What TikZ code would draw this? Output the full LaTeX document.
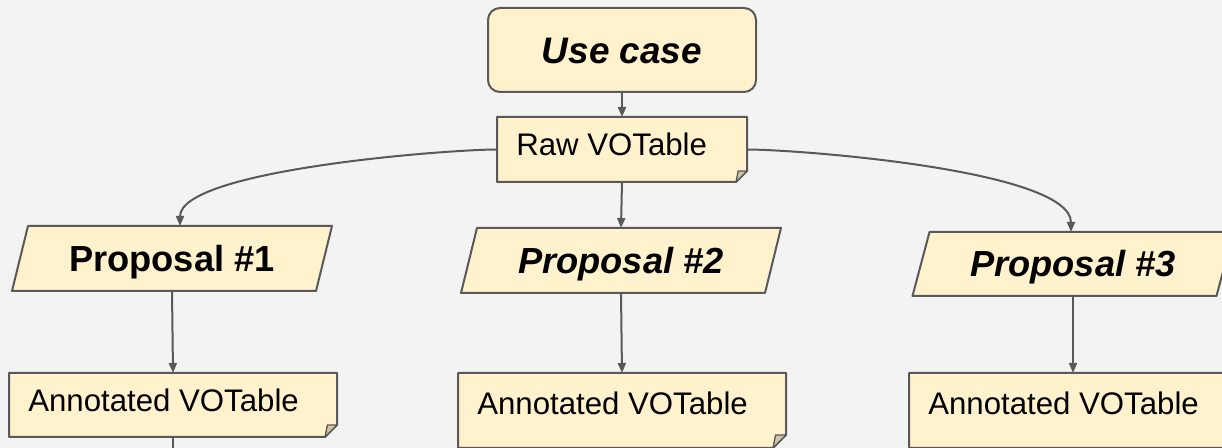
\documentclass[tikz,border=0pt]{standalone}
\usepackage{fontspec}
\setmainfont{Liberation Sans}
\usetikzlibrary{arrows.meta,calc}
\pgfdeclarelayer{bg}
\pgfdeclarelayer{shp}
\pgfsetlayers{bg,shp,main}
\definecolor{bgc}{HTML}{F3F3F3}
\definecolor{boxf}{HTML}{FFF2CC}
\definecolor{edgec}{HTML}{595959}
\definecolor{foldc}{HTML}{CFC5A5}
\newcommand\drawfoldbox[2]{%
  \path[shapeline] (#1.north west) -- (#1.north east) -- ($(#1.south east)+(0,-#2)$) -- ($(#1.south east)+(-#2,0)$) -- (#1.south west) -- cycle;
  \path[shapeline, fill=foldc, line width=1pt] ($(#1.south east)+(0,-#2)$) -- ($(#1.south east)+(-0.8*#2,-#2)$) -- ($(#1.south east)+(-#2,0)$) -- cycle;}
\newcommand\drawpara[2]{%
  \path[shapeline] ($(#1.north west)+(#2,0)$) -- ($(#1.north east)+(#2,0)$) -- ($(#1.south east)+(-#2,0)$) -- ($(#1.south west)+(-#2,0)$) -- cycle;}
\begin{document}
\begin{tikzpicture}[x=0.75pt,y=-0.75pt,
  box/.style={rectangle, inner sep=0pt, outer sep=0pt},
  shapeline/.style={draw=edgec, line width=1.5pt, fill=boxf, line join=round},
  conn/.style={draw=edgec, line width=1.5pt, -{Triangle[length=7.5pt,width=6pt]}},
  plainline/.style={draw=edgec, line width=1.5pt},
  titlefont/.style={font=\fontsize{27.7}{33}\selectfont\bfseries\itshape, text height=19.8pt, text depth=0pt},
  propfont/.style={font=\fontsize{27.2}{33}\selectfont\bfseries, text height=19.5pt, text depth=0pt},
  propitfont/.style={font=\fontsize{27.2}{33}\selectfont\bfseries\itshape, text height=19.5pt, text depth=0pt},
  regtext/.style={font=\fontsize{23.4}{28}\selectfont, inner sep=0pt, anchor=base west}
]
\useasboundingbox (0,0) rectangle (1222,448);
\begin{pgfonlayer}{bg}
  \fill[bgc] (0,0) rectangle (1222,448);
\end{pgfonlayer}
\clip (0,0) rectangle (1222,448);

% Use case
\node[box, minimum width=201pt, minimum height=63pt, draw=edgec, fill=boxf, line width=1.5pt, rounded corners=9pt, titlefont] (uc) at (622,50) {Use case};

% Raw VOTable
\node[box, minimum width=187.5pt, minimum height=48.75pt] (raw) at (622,149.5) {};
\node[regtext] (rawt) at ([shift={(19,39)}]raw.north west) {Raw VOTable};

% Proposals
\node[box, minimum width=228pt, minimum height=48.75pt, propfont] (p1) at (172,258.5) {Proposal \#1};
\node[box, minimum width=228pt, minimum height=48.75pt, propitfont] (p2) at (621,260.5) {Proposal \#2};
\node[box, minimum width=228pt, minimum height=48pt, propitfont] (p3) at (1073,264) {Proposal \#3};

% Annotated VOTables
\node[box, minimum width=246pt, minimum height=48pt] (a1) at (173,405) {};
\node[regtext] (a1t) at ([shift={(19,39)}]a1.north west) {Annotated VOTable};
\node[box, minimum width=246pt, minimum height=56.25pt] (a2) at (622,410.5) {};
\node[regtext] (a2t) at ([shift={(19,42)}]a2.north west) {Annotated VOTable};
\node[box, minimum width=246pt, minimum height=56.25pt] (a3) at (1073,410.5) {};
\node[regtext] (a3t) at ([shift={(19,42)}]a3.north west) {Annotated VOTable};

\coordinate (a1out) at (173,480);

\begin{pgfonlayer}{shp}
  \drawfoldbox{raw}{11}
  \drawpara{p1}{8}
  \drawpara{p2}{8}
  \drawpara{p3}{8.5}
  \drawfoldbox{a1}{12}
  \drawfoldbox{a2}{13}
  \drawfoldbox{a3}{13}
\end{pgfonlayer}

% Connectors
\draw[conn] (uc.south) -- (raw.north);
\draw[conn] (raw.south) -- (p2.north);
\draw[conn] (raw.west) .. controls +(-50,0) and +(0,-56) .. ($(p1.north)+(8,0)$);
\draw[conn] (raw.east) .. controls +(50,0) and +(0,-62) .. ($(p3.north)+(-2,0)$);
\draw[conn] (p1.south) -- (a1.north);
\draw[conn] (p2.south) -- (a2.north);
\draw[conn] (p3.south) -- (a3.north);
\draw[plainline] (a1.south) -- (a1out);
\end{tikzpicture}
\end{document}
